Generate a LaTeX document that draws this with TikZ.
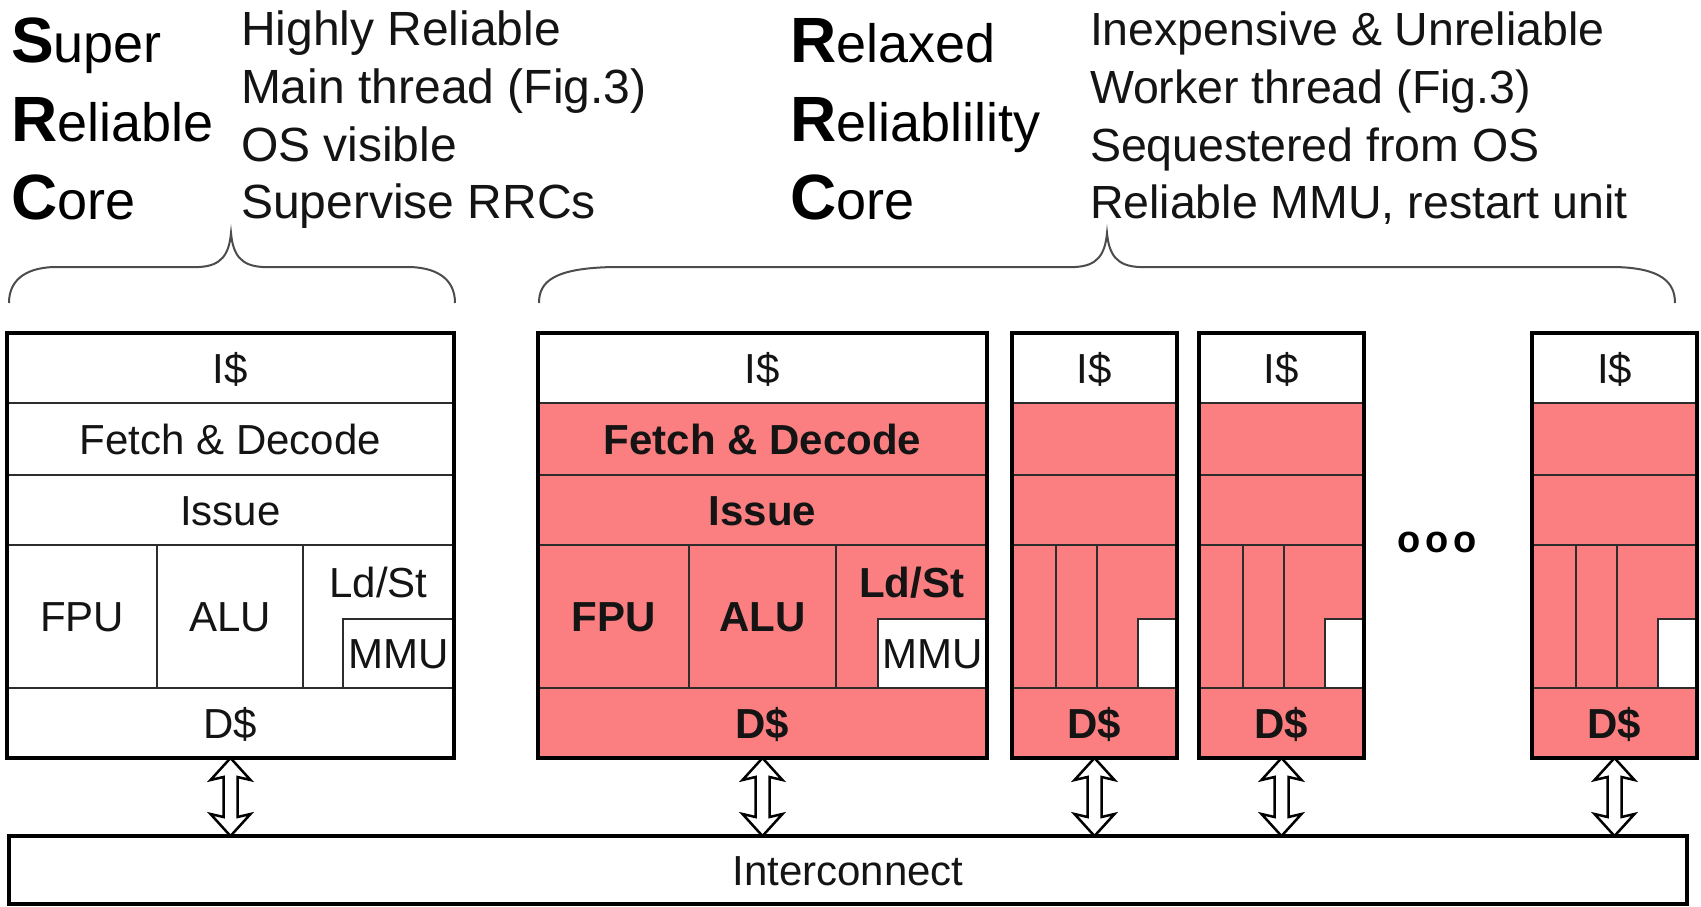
\documentclass[tikz,border=0pt]{standalone}
\usepackage{fontspec}
\setmainfont{Liberation Sans}
\usetikzlibrary{calc}
\definecolor{rrcfill}{RGB}{251,126,128}
\definecolor{inkc}{RGB}{20,20,20}
\definecolor{linec}{RGB}{45,45,45}
\newcommand\myinit[1]{{\fontsize{64}{64}\selectfont\bfseries #1}}
\newcommand\myrest[1]{{\fontsize{54}{54}\selectfont #1}}
% core geometry: name, L, R, v1, v2, mmuX, fill
\newcommand\mycore[7]{%
  \node[inner sep=0, outer sep=0, minimum width={(#3-#2)*1pt}, minimum height=425pt, anchor=north west] (#1) at (#2,333) {};
  \fill[#7] (#2,403) rectangle (#3,758);
  \fill[white] (#6,619) rectangle (#3,688);
  \draw[innerline] (#2,403) -- (#3,403) (#2,475) -- (#3,475) (#2,545) -- (#3,545) (#2,688) -- (#3,688)
     (#4,545) -- (#4,688) (#5,545) -- (#5,688) (#6,688) -- (#6,619) -- (#3,619);
  \draw[outerline] (#1.north west) rectangle (#1.south east);
}
\newcommand\mybrace[5]{%
  \draw[bracestyle] (#1,303) .. controls (#1,282) and (#1+14,268) .. (#1+#4,267) -- (#2-32,267)
    .. controls (#2-10,266) and (#2-2,255) .. (#2,233)
    .. controls (#2+2,255) and (#2+10,266) .. (#2+32,267) -- (#3-#5,267)
    .. controls (#3-14,268) and (#3,282) .. (#3,303);
}
\begin{document}
\begin{tikzpicture}[x=1pt,y=-1pt,
  innerline/.style={draw=linec, line width=2pt},
  outerline/.style={draw=black, line width=3.8pt},
  bracestyle/.style={draw=black!70, line width=2pt},
  txt/.style={inner sep=0, outer sep=0, text height=30pt, text depth=0pt, font=\fontsize{42}{50}\selectfont, text=inkc},
  btxt/.style={txt, font=\fontsize{42}{50}\selectfont\bfseries},
  side/.style={inner sep=0, outer sep=0, anchor=base west, font=\fontsize{48}{48}\selectfont, text=inkc},
  sideR/.style={side, font=\fontsize{46.5}{46.5}\selectfont},
  big/.style={inner sep=0, outer sep=0, anchor=base west, text=black},
  udarrow/.style={draw=black, line width=2.5pt, fill=white, line join=miter,
    to path={let \p1=(\tikztostart), \p2=(\tikztotarget) in
      (\x1,\y1) -- (\x1+20pt,\y1-22pt) -- (\x1+7pt,\y1-19pt) -- (\x1+7pt,\y2+19pt) -- (\x1+20pt,\y2+22pt)
      -- (\x1,\y2) -- (\x1-20pt,\y2+22pt) -- (\x1-7pt,\y2+19pt) -- (\x1-7pt,\y1-19pt) -- (\x1-20pt,\y1-22pt) -- cycle}}
]
\useasboundingbox (0,0) rectangle (1701,907);
\fill[white] (0,0) rectangle (1701,907);

% ---- headings ----
\node[big] (srcS) at (11,63) {\myinit{S}\myrest{uper}};
\node[big] (srcR) at (11,141) {\myinit{R}\myrest{eliable}};
\node[big] (srcC) at (11,219) {\myinit{C}\myrest{ore}};
\node[side] (srcT1) at (241,46) {Highly Reliable};
\node[side] (srcT2) at (241,103.5) {Main thread (Fig.3)};
\node[side] (srcT3) at (241,161) {OS visible};
\node[side] (srcT4) at (241,218) {Supervise RRCs};

\node[big] (rrcR1) at (790,63) {\myinit{R}\myrest{elaxed}};
\node[big] (rrcR2) at (790,141) {\myinit{R}\myrest{eliablility}};
\node[big] (rrcC) at (790,219) {\myinit{C}\myrest{ore}};
\node[sideR] (rrcT1) at (1090,46) {Inexpensive \& Unreliable};
\node[sideR] (rrcT2) at (1090,103.5) {Worker thread (Fig.3)};
\node[sideR] (rrcT3) at (1090,161) {Sequestered from OS};
\node[sideR] (rrcT4) at (1090,218) {Reliable MMU, restart unit};

% ---- braces ----
\mybrace{9}{231}{455}{45}{45}
\mybrace{539}{1107}{1675}{75}{60}

% ---- cores ----
\mycore{src}{7}{454}{157}{303}{343}{white}
\mycore{rrcA}{538}{987}{689}{836}{878}{rrcfill}
\mycore{rrcB}{1012}{1177}{1056}{1097}{1138}{rrcfill}
\mycore{rrcC}{1199}{1364}{1243}{1284}{1325}{rrcfill}
\mycore{rrcD}{1532}{1697}{1576}{1617}{1658}{rrcfill}

% SRC labels
\node[txt] (srcI) at (230.5,368) {I\$};
\node[txt] (srcF) at (230.5,439) {Fetch \& Decode};
\node[txt] (srcIs) at (230.5,510) {Issue};
\node[txt] (srcFPU) at (82,616.5) {FPU};
\node[txt] (srcALU) at (230,616.5) {ALU};
\node[txt] (srcLS) at (378.5,582) {Ld/St};
\node[txt] (srcMMU) at (398.5,653.5) {MMU};
\node[txt] (srcD) at (230.5,723) {D\$};

% big RRC labels
\node[txt] (rrcAI) at (762.5,368) {I\$};
\node[btxt] (rrcAF) at (762.5,439) {Fetch \& Decode};
\node[btxt] (rrcAIs) at (762.5,510) {Issue};
\node[btxt] (rrcAFPU) at (613.5,616.5) {FPU};
\node[btxt] (rrcAALU) at (762.5,616.5) {ALU};
\node[btxt] (rrcALS) at (911.5,582) {Ld/St};
\node[txt] (rrcAMMU) at (932.5,653.5) {MMU};
\node[btxt] (rrcAD) at (762.5,723) {D\$};

% small RRC labels
\node[txt] (rrcBI) at (1094.5,368) {I\$};
\node[btxt] (rrcBD) at (1094.5,723) {D\$};
\node[txt] (rrcCI) at (1281.5,368) {I\$};
\node[btxt] (rrcCD) at (1281.5,723) {D\$};
\node[txt] (rrcDI) at (1614.5,368) {I\$};
\node[btxt] (rrcDD) at (1614.5,723) {D\$};

% ellipsis
\node[inner sep=0, anchor=base, font=\fontsize{38}{38}\selectfont\bfseries] (dots) at (1437,552) {o\kern5pt o\kern5pt o};

% ---- interconnect ----
\node[draw=black, line width=3.8pt, inner sep=0, outer sep=0, minimum width=1678pt, minimum height=68pt,
      anchor=north west, font=\fontsize{42}{50}\selectfont, text=inkc, text height=30pt, text depth=0pt] (ic) at (9,836) {Interconnect};

% ---- arrows ----
\draw[udarrow] (src.south) to (src.south |- ic.north);
\draw[udarrow] (rrcA.south) to (rrcA.south |- ic.north);
\draw[udarrow] (rrcB.south) to (rrcB.south |- ic.north);
\draw[udarrow] (rrcC.south) to (rrcC.south |- ic.north);
\draw[udarrow] (rrcD.south) to (rrcD.south |- ic.north);
\end{tikzpicture}
\end{document}
